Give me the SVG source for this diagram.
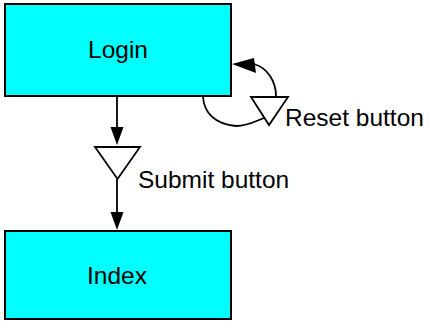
<svg xmlns="http://www.w3.org/2000/svg" width="430" height="324" viewBox="0 0 430 324">
  <style>
    .box { fill: #00ffff; stroke: #000; stroke-width: 2; }
    .lbl { font-family: "Liberation Sans", Arial, sans-serif; font-size: 24.5px; fill: #000; }
    .edge { fill: none; stroke: #000; stroke-width: 1.8; }
    .head { fill: #000; }
    .tri { fill: #fff; stroke: #000; stroke-width: 1.8; stroke-linejoin: miter; }
  </style>
  <rect width="430" height="324" fill="#fff"/>

  <g id="login">
    <rect class="box" x="5" y="4" width="226" height="92"/>
    <text class="lbl" x="118" y="58" text-anchor="middle">Login</text>
  </g>

  <g id="index">
    <rect class="box" x="5" y="231" width="226" height="88"/>
    <text class="lbl" x="117" y="284" text-anchor="middle">Index</text>
  </g>

  <g id="connectors">
    <!-- Login to Submit button -->
    <path class="edge" d="M117,96 L117,127"/>
    <path class="head" d="M110.5,127 L123.5,127 L117,145 Z"/>
    <!-- Submit button to Index -->
    <path class="edge" d="M117,179 L117,212"/>
    <path class="head" d="M110.5,212 L123.5,212 L117,230 Z"/>
    <!-- Reset loop back into Login -->
    <path class="edge" d="M203,97 C204,112 214,124 236,126 C248,126 256,121 264,118"/>
    <path class="edge" d="M276,96 C276,82 268,68 254,64"/>
    <path class="head" d="M232,64 L254,58 L256,73 Z"/>
  </g>

  <g id="submit">
    <polygon class="tri" points="95,147 140,147 117.5,179"/>
    <text class="lbl" x="138" y="188">Submit button</text>
  </g>

  <g id="reset">
    <polygon class="tri" points="251,97 288,97 269,125"/>
    <text class="lbl" x="285" y="126">Reset button</text>
  </g>
</svg>
